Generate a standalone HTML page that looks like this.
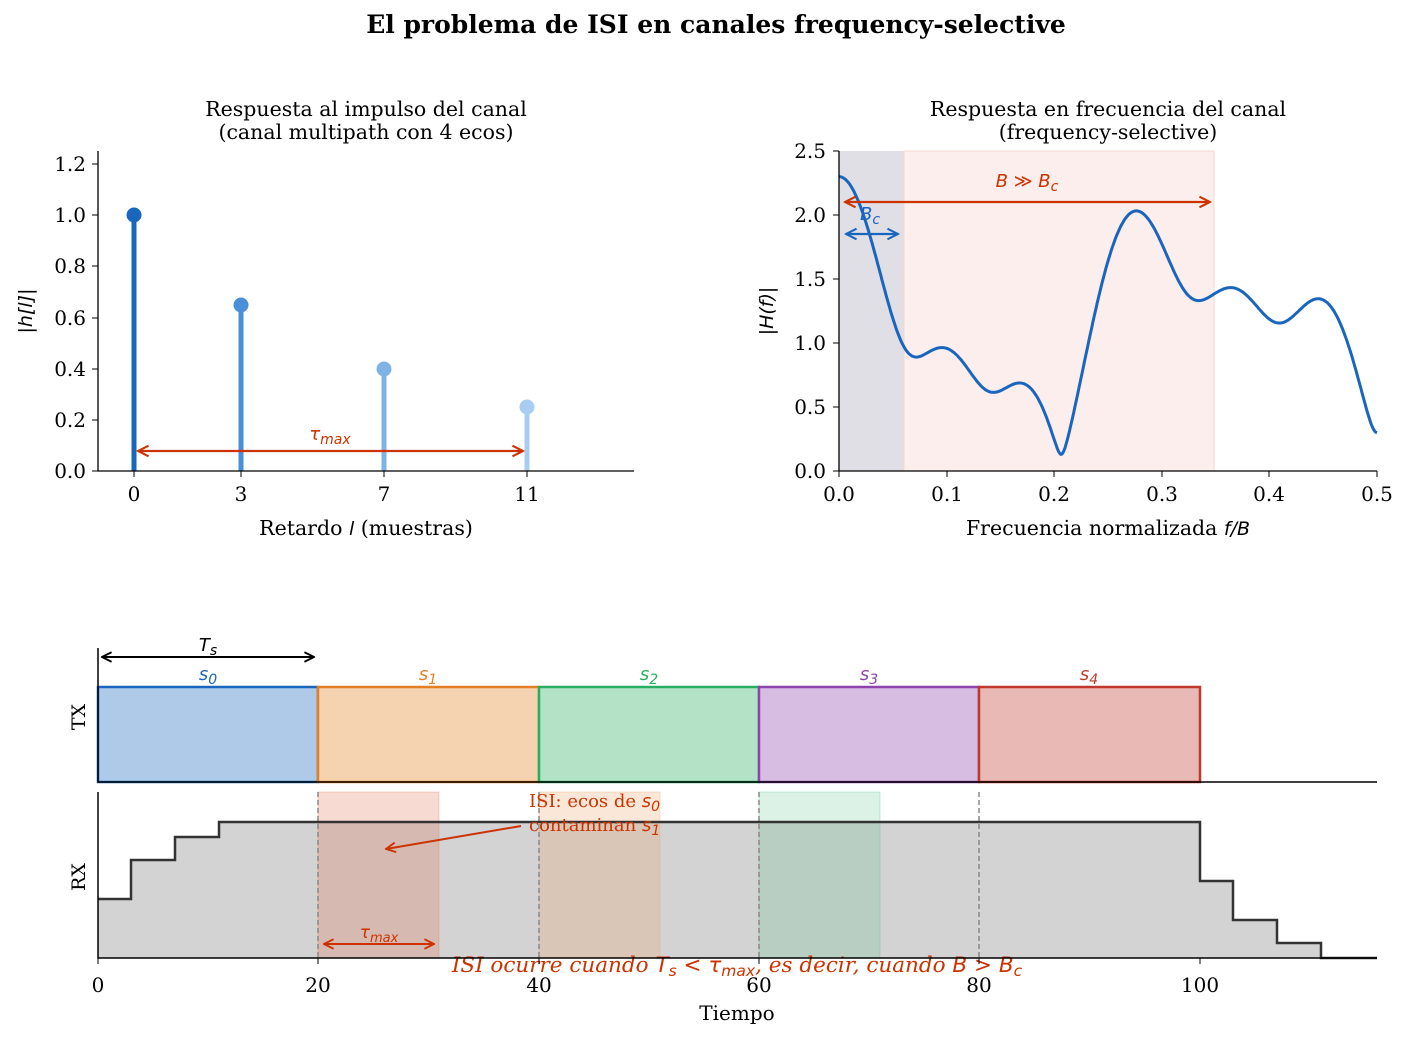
<!DOCTYPE html><html><head><meta charset="utf-8"><style>body{margin:0;background:#fff}svg{font-family:"DejaVu Serif",serif}</style></head><body>
<svg id="s" width="1408" height="1038" viewBox="0 0 1408 1038" xmlns="http://www.w3.org/2000/svg">
<defs><marker id="ar2" viewBox="0 0 10 10" refX="9" refY="5" markerWidth="6" markerHeight="6" orient="auto-start-reverse"><path d="M1,1L9,5L1,9" fill="none" stroke="#cc3300" stroke-width="1.6"/></marker>
<marker id="ab" viewBox="0 0 10 10" refX="9" refY="5" markerWidth="6" markerHeight="6" orient="auto-start-reverse"><path d="M1,1L9,5L1,9" fill="none" stroke="#1a66bf" stroke-width="1.6"/></marker>
<marker id="ak" viewBox="0 0 10 10" refX="9" refY="5" markerWidth="6" markerHeight="6" orient="auto-start-reverse"><path d="M1,1L9,5L1,9" fill="none" stroke="#000" stroke-width="1.6"/></marker></defs>
<text x="716" y="33" font-size="25" font-weight="bold" text-anchor="middle">El problema de ISI en canales frequency-selective</text>

<!-- top-left -->
<text x="366" y="116" font-size="20.5" text-anchor="middle">Respuesta al impulso del canal</text>
<text x="366" y="139" font-size="20.5" text-anchor="middle">(canal multipath con 4 ecos)</text>
<g stroke-width="5">
<line x1="134" y1="471" x2="134" y2="215" stroke="#1a66bf"/><circle cx="134" cy="215" r="7.5" fill="#1a66bf"/>
<line x1="241" y1="471" x2="241" y2="305" stroke="#4a90d9"/><circle cx="241" cy="305" r="7.5" fill="#4a90d9"/>
<line x1="384" y1="471" x2="384" y2="369" stroke="#7fb3e6"/><circle cx="384" cy="369" r="7.5" fill="#7fb3e6"/>
<line x1="527" y1="471" x2="527" y2="407" stroke="#a8cdf2"/><circle cx="527" cy="407" r="7.5" fill="#a8cdf2"/>
</g>
<line x1="138" y1="451" x2="523" y2="451" stroke="#cc3300" stroke-width="2.2" marker-start="url(#ar2)" marker-end="url(#ar2)"/>
<text x="330" y="440" font-size="18" fill="#cc3300" text-anchor="middle" font-family="DejaVu Sans" font-style="italic">τ<tspan font-size="14" dy="4">max</tspan></text>
<path d="M98,151V471H634" fill="none" stroke="#000" stroke-width="1.3"/>
<g font-size="20" text-anchor="end">
<text x="86" y="478">0.0</text><text x="86" y="427">0.2</text><text x="86" y="376">0.4</text><text x="86" y="325">0.6</text><text x="86" y="273">0.8</text><text x="86" y="222">1.0</text><text x="86" y="171">1.2</text></g>
<g stroke="#000"><line x1="92" x2="98" y1="471" y2="471"/><line x1="92" x2="98" y1="420" y2="420"/><line x1="92" x2="98" y1="369" y2="369"/><line x1="92" x2="98" y1="318" y2="318"/><line x1="92" x2="98" y1="266" y2="266"/><line x1="92" x2="98" y1="215" y2="215"/><line x1="92" x2="98" y1="164" y2="164"/>
<line x1="134" x2="134" y1="471" y2="477"/><line x1="241" x2="241" y1="471" y2="477"/><line x1="384" x2="384" y1="471" y2="477"/><line x1="527" x2="527" y1="471" y2="477"/></g>
<g font-size="20" text-anchor="middle"><text x="134" y="501">0</text><text x="241" y="501">3</text><text x="384" y="501">7</text><text x="527" y="501">11</text></g>
<text x="366" y="535" font-size="20.5" text-anchor="middle">Retardo <tspan font-family="DejaVu Sans" font-style="italic" font-size="19">l</tspan> (muestras)</text>
<text transform="translate(32,311) rotate(-90)" font-size="19" text-anchor="middle" font-family="DejaVu Sans" font-style="italic">|h[l]|</text>

<!-- top-right -->
<text x="1108" y="116" font-size="20.5" text-anchor="middle">Respuesta en frecuencia del canal</text>
<text x="1108" y="139" font-size="20.5" text-anchor="middle">(frequency-selective)</text>
<rect x="839" y="151" width="65" height="320" fill="#e0dfe6"/>
<rect x="904" y="151" width="310" height="320" fill="#fbeeec" stroke="#f6d8d2"/>
<path id="hf" fill="none" stroke="#1a66bf" stroke-width="3"/>
<line x1="845" y1="202" x2="1210" y2="202" stroke="#cc3300" stroke-width="2.2" marker-start="url(#ar2)" marker-end="url(#ar2)"/>
<text x="1027" y="187" font-size="18" fill="#cc3300" text-anchor="middle" font-family="DejaVu Sans" font-style="italic">B ≫ B<tspan font-size="14" dy="4">c</tspan></text>
<line x1="846" y1="234" x2="898" y2="234" stroke="#1a66bf" stroke-width="2.2" marker-start="url(#ab)" marker-end="url(#ab)"/>
<text x="870" y="220" font-size="18" fill="#1a66bf" text-anchor="middle" font-family="DejaVu Sans" font-style="italic">B<tspan font-size="14" dy="4">c</tspan></text>
<path d="M839,151V471H1377" fill="none" stroke="#000" stroke-width="1.3"/>
<g font-size="20" text-anchor="end"><text x="826" y="478">0.0</text><text x="826" y="414">0.5</text><text x="826" y="350">1.0</text><text x="826" y="286">1.5</text><text x="826" y="222">2.0</text><text x="826" y="158">2.5</text></g>
<g stroke="#000"><line x1="833" x2="839" y1="471" y2="471"/><line x1="833" x2="839" y1="407" y2="407"/><line x1="833" x2="839" y1="343" y2="343"/><line x1="833" x2="839" y1="279" y2="279"/><line x1="833" x2="839" y1="215" y2="215"/><line x1="833" x2="839" y1="151" y2="151"/>
<line y1="471" y2="477" x1="839" x2="839"/><line y1="471" y2="477" x1="947" x2="947"/><line y1="471" y2="477" x1="1054" x2="1054"/><line y1="471" y2="477" x1="1162" x2="1162"/><line y1="471" y2="477" x1="1269" x2="1269"/><line y1="471" y2="477" x1="1377" x2="1377"/></g>
<g font-size="20" text-anchor="middle"><text x="839" y="501">0.0</text><text x="947" y="501">0.1</text><text x="1054" y="501">0.2</text><text x="1162" y="501">0.3</text><text x="1269" y="501">0.4</text><text x="1377" y="501">0.5</text></g>
<text x="1108" y="535" font-size="20.5" text-anchor="middle">Frecuencia normalizada <tspan font-family="DejaVu Sans" font-style="italic" font-size="19">f/B</tspan></text>
<text transform="translate(773,311) rotate(-90)" font-size="19" text-anchor="middle" font-family="DejaVu Sans" font-style="italic">|H(f)|</text>

<!-- TX -->
<rect x="98" y="687" width="220" height="95" fill="#aecae8" stroke="#1a66bf" stroke-width="2.5"/>
<rect x="318" y="687" width="221" height="95" fill="#f5d2b0" stroke="#e67e22" stroke-width="2.5"/>
<rect x="539" y="687" width="220" height="95" fill="#b3e2c7" stroke="#27ae60" stroke-width="2.5"/>
<rect x="759" y="687" width="220" height="95" fill="#d7bde2" stroke="#8e44ad" stroke-width="2.5"/>
<rect x="979" y="687" width="221" height="95" fill="#e8b9b5" stroke="#c0392b" stroke-width="2.5"/>
<g font-size="18" text-anchor="middle" font-family="DejaVu Sans" font-style="italic">
<text x="208" y="680" fill="#1a66bf">s<tspan font-size="14" dy="4">0</tspan></text>
<text x="428" y="680" fill="#e67e22">s<tspan font-size="14" dy="4">1</tspan></text>
<text x="649" y="680" fill="#27ae60">s<tspan font-size="14" dy="4">2</tspan></text>
<text x="869" y="680" fill="#8e44ad">s<tspan font-size="14" dy="4">3</tspan></text>
<text x="1089" y="680" fill="#c0392b">s<tspan font-size="14" dy="4">4</tspan></text>
<text x="208" y="651" fill="#000">T<tspan font-size="14" dy="4">s</tspan></text></g>
<line x1="102" y1="657" x2="314" y2="657" stroke="#000" stroke-width="2" marker-start="url(#ak)" marker-end="url(#ak)"/>
<path d="M98,648V782H1377" fill="none" stroke="#000" stroke-width="1.5"/>
<text transform="translate(85,717) rotate(-90)" font-size="19" text-anchor="middle">TX</text>

<!-- RX -->
<path d="M98,958V899H131V860H175V837H219V822H1200V881H1233V920H1277V943H1321V958H1377V958Z" fill="#d3d3d3"/>
<rect x="318" y="792" width="121" height="166" fill="#e07050" fill-opacity="0.25" stroke="#e07050" stroke-opacity="0.3"/>
<rect x="539" y="792" width="121" height="166" fill="#f0a060" fill-opacity="0.25" stroke="#f0a060" stroke-opacity="0.3"/>
<rect x="759" y="792" width="121" height="166" fill="#50c080" fill-opacity="0.2" stroke="#50c080" stroke-opacity="0.3"/>
<g stroke="#888" stroke-dasharray="5,3" stroke-width="1.5"><line x1="318" x2="318" y1="792" y2="958"/><line x1="539" x2="539" y1="792" y2="958"/><line x1="759" x2="759" y1="792" y2="958"/><line x1="979" x2="979" y1="792" y2="958"/></g>
<path d="M98,899H131V860H175V837H219V822H1200V881H1233V920H1277V943H1321V958H1377" fill="none" stroke="#333" stroke-width="2.5"/>
<line x1="521" y1="826" x2="386" y2="849" stroke="#cc3300" stroke-width="2" marker-end="url(#ar2)"/>
<text x="529" y="807" font-size="18" fill="#cc3300">ISI: ecos de <tspan font-family="DejaVu Sans" font-style="italic">s</tspan><tspan font-size="14" dy="4" font-family="DejaVu Sans" font-style="italic">0</tspan></text>
<text x="529" y="831" font-size="18" fill="#cc3300">contaminan <tspan font-family="DejaVu Sans" font-style="italic">s</tspan><tspan font-size="14" dy="4" font-family="DejaVu Sans" font-style="italic">1</tspan></text>
<line x1="324" y1="944" x2="434" y2="944" stroke="#cc3300" stroke-width="2" marker-start="url(#ar2)" marker-end="url(#ar2)"/>
<text x="379" y="938" font-size="17" fill="#cc3300" text-anchor="middle" font-family="DejaVu Sans" font-style="italic">τ<tspan font-size="13" dy="4">max</tspan></text>
<text x="737" y="972" font-size="21.5" fill="#cc3300" text-anchor="middle" font-style="italic">ISI ocurre cuando <tspan font-family="DejaVu Sans">T</tspan><tspan font-size="15.5" dy="4" font-family="DejaVu Sans">s</tspan><tspan dy="-4" font-family="DejaVu Sans"> &lt; τ</tspan><tspan font-size="15.5" dy="4" font-family="DejaVu Sans">max</tspan><tspan dy="-4">, es decir, cuando </tspan><tspan font-family="DejaVu Sans">B &gt; B</tspan><tspan font-size="15.5" dy="4" font-family="DejaVu Sans">c</tspan></text>
<path d="M98,792V958H1377" fill="none" stroke="#000" stroke-width="1.5"/>
<g stroke="#000"><line y1="958" y2="964" x1="98" x2="98"/><line y1="958" y2="964" x1="318" x2="318"/><line y1="958" y2="964" x1="539" x2="539"/><line y1="958" y2="964" x1="759" x2="759"/><line y1="958" y2="964" x1="979" x2="979"/><line y1="958" y2="964" x1="1200" x2="1200"/></g>
<g font-size="20" text-anchor="middle"><text x="98" y="992">0</text><text x="318" y="992">20</text><text x="539" y="992">40</text><text x="759" y="992">60</text><text x="979" y="992">80</text><text x="1200" y="992">100</text></g>
<text x="737" y="1020" font-size="20" text-anchor="middle">Tiempo</text>
<text transform="translate(85,877) rotate(-90)" font-size="19" text-anchor="middle">RX</text>
</svg>
<script>
var h={0:1,3:0.65,7:0.4,11:0.25},d="";
for(var i=0;i<=500;i++){var f=i/1000,re=0,im=0;for(var l in h){re+=h[l]*Math.cos(2*Math.PI*f*l);im-=h[l]*Math.sin(2*Math.PI*f*l);}
var m=Math.sqrt(re*re+im*im);d+=(i?"L":"M")+(839+f*1076).toFixed(1)+","+(471-m*128).toFixed(1);}
document.getElementById("hf").setAttribute("d",d);
</script>
</body></html>
